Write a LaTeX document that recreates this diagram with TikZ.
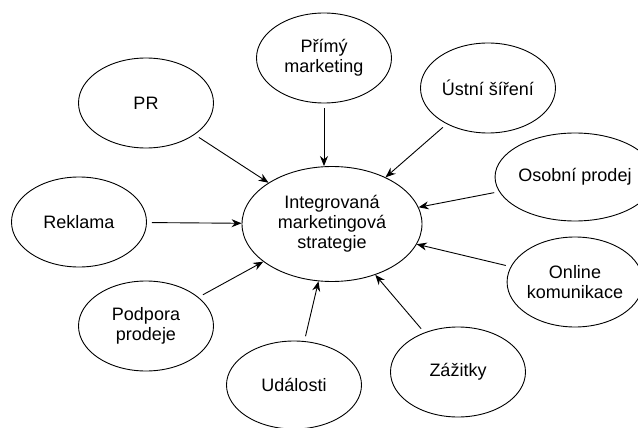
\documentclass[tikz,border=0pt]{standalone}
\usepackage{fontspec}
\setmainfont{Liberation Sans}
\usetikzlibrary{shapes.geometric, arrows.meta}
\tikzset{el/.style  = {ellipse, draw, line width=0.9pt, minimum width=135pt, minimum height=90pt,
                       inner sep=0pt, align=center, font=\fontsize{18}{20}\selectfont},
         hub/.style = {el, minimum width=180pt, minimum height=115pt},
         ar/.style  = {->, line width=0.9pt, shorten <=5pt}}

\begin{document}
\begin{tikzpicture}[x=1pt, y=-1pt, >={Stealth[length=10pt, width=8pt]}]
    \useasboundingbox (0,0) rectangle (638,428);
    \node[hub] (ims) at (332,224) {Integrovaná\\marketingová\\strategie};
    \node[el] (pr) at (146,103) {PR};
    \node[el] (pm) at (324,58)  {Přímý\\marketing};
    \node[el] (us) at (488,88)  {Ústní šíření};
    \node[el, minimum width=128pt, minimum height=88pt] (op) at (575,177) {Osobní prodej};
    \node[el, minimum width=128pt] (ok) at (575,282) {Online\\komunikace};
    \node[el] (za) at (458,372) {Zážitky};
    \node[el, minimum height=88pt] (ud) at (294,385) {Události};
    \node[el] (pp) at (146,326) {Podpora\\prodeje};
    \node[el] (re) at (79,222)  {Reklama};
    \draw[ar] (pr) -- (ims);
    \draw[ar] (pm) -- (pm |- ims.north);
    \draw[ar] (us) -- (ims);
    \draw[ar] (op) -- (ims);
    \draw[ar] (ok) -- (ims);
    \draw[ar] (za) -- (ims);
    \draw[ar] (ud) -- (ims);
    \draw[ar] (pp) -- (ims);
    \draw[ar] (re) -- (ims);
\end{tikzpicture}
\end{document}
